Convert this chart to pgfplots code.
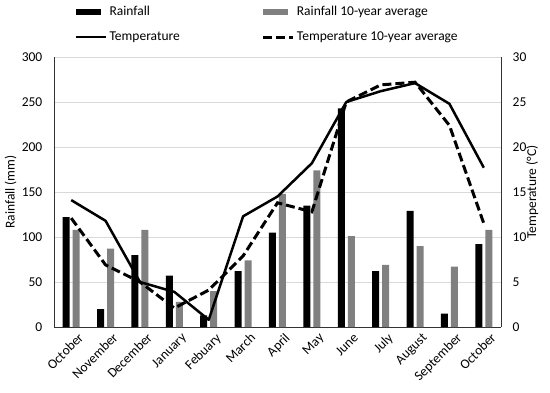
\documentclass[border=0pt]{standalone}
\usepackage{pgfplots}
\pgfplotsset{compat=1.18}
\usepackage{fontspec}
\setmainfont{Carlito}
\definecolor{avggray}{RGB}{128,128,128}
\definecolor{gridgray}{RGB}{217,217,217}
\pgfplotstableread{
x rain rainavg temp tempavg
0 122 108 14.1 12.1
1 20 87 11.8 6.9
2 80 108 5.0 5.0
3 57 28 3.9 2.1
4 13 40 0.8 4.1
5 62 74 12.3 7.9
6 105 148 14.5 13.8
7 135 174 18.2 12.8
8 243 101 25.0 25.0
9 62 69 26.2 26.9
10 129 90 27.1 27.2
11 15 67 24.8 22.4
12 92 108 17.7 11.5
}\datatable
\begin{document}
\fontsize{13.5}{16}\selectfont
\begin{tikzpicture}[x=1pt,y=1pt]
\useasboundingbox (-54,-65) rectangle (496,327);
\pgfplotsset{
  common/.style={
    scale only axis, width=447pt, height=270pt,
    xmin=-0.5, xmax=12.5,
    at={(0,0)}, anchor=south west,
    /pgf/number format/assume math mode=true,
    tick label style={font=\fontsize{13.5}{16}\selectfont},
    label style={font=\fontsize{13.5}{16}\selectfont},
    major tick length=0pt,
  }
}
\begin{axis}[common,
  ymin=0, ymax=300, ytick={0,50,...,300},
  axis y line*=left, axis x line*=bottom,
  ymajorgrids, grid style={gridgray, line width=0.8pt},
  axis line style={black!80, line width=0.8pt},
  xtick={0,...,12},
  xticklabels={October,November,December,January,Febuary,March,April,May,June,July,August,September,October},
  xticklabel style={rotate=45, anchor=north east, inner sep=1pt, yshift=-7pt, xshift=2pt},
  yticklabel style={xshift=-7pt},
  ylabel={Rainfall (mm)},
  every axis y label/.style={at={(axis description cs:-0.097,0.5)}, rotate=90, anchor=center},
  legend columns=2,
  legend cell align=left,
  legend style={draw=none, fill=none, at={(axis description cs:0.04,1.203)}, anchor=north west,
    font=\fontsize{13.5}{16}\selectfont, row sep=10pt,
    /tikz/column 2/.style={column sep=80pt}},
]
\addplot[ybar, bar width=7pt, bar shift=-5pt, fill=black, draw=none,
  legend image code/.code={\fill[black] (0pt,-3pt) rectangle (25pt,3pt);}]
  table[x=x, y=rain] {\datatable};
\addlegendentry{Rainfall}
\addplot[ybar, bar width=7pt, bar shift=5pt, fill=avggray, draw=none,
  legend image code/.code={\fill[avggray] (0pt,-3pt) rectangle (25pt,3pt);}]
  table[x=x, y=rainavg] {\datatable};
\addlegendentry{Rainfall 10-year average}
\addlegendimage{legend image code/.code={\draw[black, line width=2.5pt] (0pt,0pt) -- (30pt,0pt);}}
\addlegendentry{Temperature}
\addlegendimage{legend image code/.code={\draw[black, line width=3pt, dash pattern=on 9pt off 4pt] (0pt,0pt) -- (30pt,0pt);}}
\addlegendentry{Temperature 10-year average}
\end{axis}
\begin{axis}[common,
  ymin=0, ymax=30, ytick={0,5,...,30},
  axis y line*=right, axis x line=none,
  axis line style={black!80, line width=0.8pt},
  yticklabel style={xshift=7pt},
  ylabel={Temperature (°C)},
  every axis y label/.style={at={(axis description cs:1.07,0.5)}, rotate=90, anchor=center},
]
\addplot[black, line width=2.5pt, line join=round, no markers] table[x=x, y=temp] {\datatable};
\addplot[black, line width=3pt, dash pattern=on 9pt off 4pt, no markers] table[x=x, y=tempavg] {\datatable};
\end{axis}
\end{tikzpicture}
\end{document}
